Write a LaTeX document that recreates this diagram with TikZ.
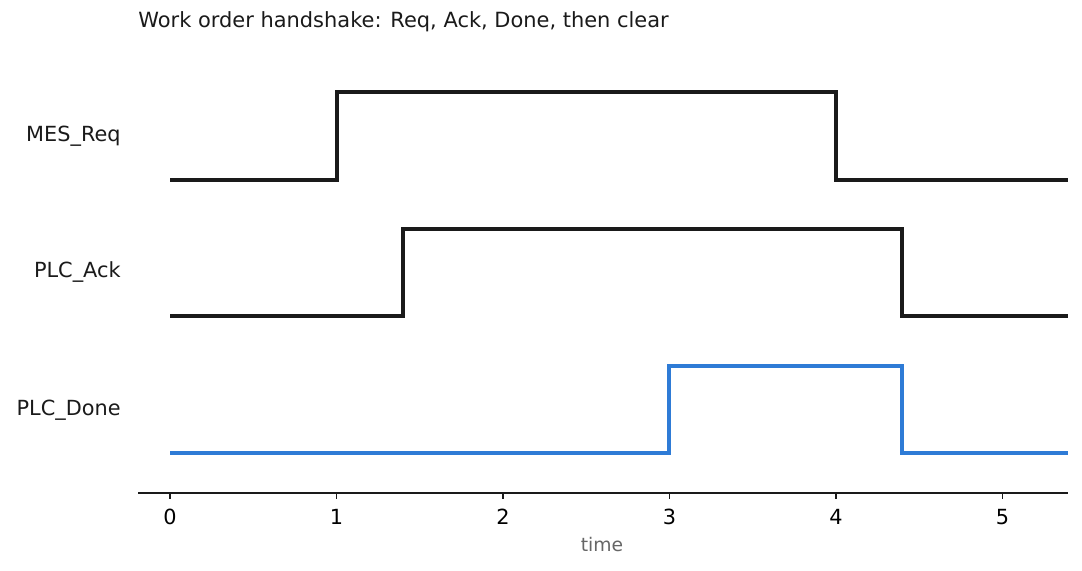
\documentclass[tikz,border=0pt]{standalone}
\usepackage{fontspec}
\setmainfont{DejaVu Sans}
\definecolor{sig}{HTML}{1A1A1A}
\definecolor{done}{HTML}{2E7BD6}
\definecolor{lbl}{HTML}{1A1A1A}
\definecolor{axlbl}{HTML}{666666}
\begin{document}
\begin{tikzpicture}[x=0.48pt,y=-0.48pt,
  wave/.style={line width=1.45pt,line join=miter},
  siglabel/.style={anchor=east,inner sep=0pt,font=\fontsize{10}{12}\selectfont,text=lbl},
  ticklabel/.style={anchor=north,inner sep=0pt,font=\fontsize{10}{12}\selectfont,text=black},
  axis/.style={line width=0.75pt,draw=sig}]
\useasboundingbox (0,0) rectangle (1082,571);
% title
\node[anchor=west,inner sep=0pt,font=\fontsize{10.05}{12}\selectfont,text=lbl] (title) at (138,22) {Work order handshake: Req, Ack, Done, then clear};
% labels
\node[siglabel] (lreq) at (121,136) {MES\_Req};
\node[siglabel] (lack) at (121,272) {PLC\_Ack};
\node[siglabel] (ldone) at (121,410) {PLC\_Done};
% waveforms
\draw[wave,draw=sig] (170,180) -- (337,180) -- (337,92) -- (836,92) -- (836,180) -- (1068,180);
\draw[wave,draw=sig] (170,316) -- (403,316) -- (403,229) -- (902,229) -- (902,316) -- (1068,316);
\draw[wave,draw=done] (170,453) -- (669,453) -- (669,366) -- (902,366) -- (902,453) -- (1068,453);
% axis
\draw[axis] (138,493) -- (1068,493);
\foreach \t/\x in {0/170,1/336.5,2/503,3/669.5,4/836,5/1002.5}{
  \draw[axis] (\x,493) -- (\x,499);
  \node[ticklabel] (tick\t) at (\x,509) {\t};
}
\node[anchor=north,inner sep=0pt,font=\fontsize{9}{11}\selectfont,text=axlbl] (xlabel) at (602,537) {time};
\end{tikzpicture}
\end{document}
